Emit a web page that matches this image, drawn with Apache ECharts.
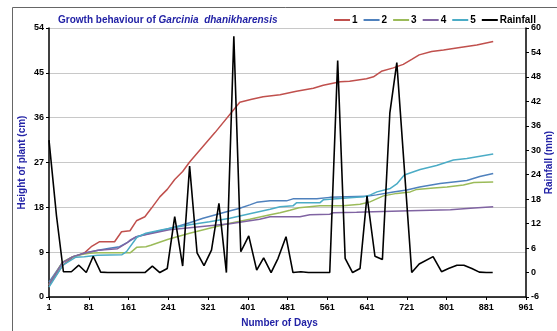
<!DOCTYPE html>
<html>
<head>
<meta charset="utf-8">
<script src="https://cdn.jsdelivr.net/npm/echarts@6/dist/echarts.min.js"></script>
<style>html,body{margin:0;padding:0;background:#fff}#c{width:557px;height:331px}</style>
</head>
<body>
<div id="c"></div>
<script>
// ---- Data ----
const xTicks = [1, 81, 161, 241, 321, 401, 481, 561, 641, 721, 801, 881, 961];

const s1Days = [1, 29, 49, 73, 86, 103, 133, 147, 164, 177, 194, 207, 224, 239, 254, 270, 284, 335, 385, 409, 432, 466, 499, 533, 553, 587, 606, 640, 654, 670, 694, 714, 731, 746, 771, 795, 828, 862, 895];
const s1Vals = [2.3, 6.4, 8.0, 8.9, 10.1, 11.1, 11.1, 13.1, 13.3, 15.3, 16.1, 17.8, 20.1, 21.6, 23.6, 25.2, 27.1, 33.0, 39.1, 39.7, 40.2, 40.6, 41.3, 41.9, 42.5, 43.2, 43.3, 43.8, 44.2, 45.3, 46.0, 46.7, 47.7, 48.6, 49.3, 49.6, 50.1, 50.6, 51.3];

const s2Days = [1, 28, 49, 76, 100, 123, 143, 160, 177, 204, 237, 264, 284, 311, 351, 385, 405, 419, 446, 479, 492, 540, 566, 600, 640, 660, 694, 721, 747, 788, 842, 868, 895];
const s2Vals = [3.0, 6.9, 8.1, 8.9, 9.4, 9.8, 10.1, 11.0, 12.1, 12.8, 13.6, 14.3, 14.9, 15.8, 16.9, 17.8, 18.5, 19.0, 19.3, 19.3, 19.7, 19.7, 20.0, 20.1, 20.2, 20.5, 21.1, 21.5, 22.1, 22.8, 23.4, 24.2, 24.8];

const s3Days = [1, 28, 49, 69, 83, 100, 165, 178, 196, 206, 241, 284, 324, 365, 405, 446, 466, 486, 504, 546, 593, 627, 647, 674, 701, 728, 741, 775, 802, 835, 856, 895];
const s3Vals = [2.5, 7.0, 8.1, 8.6, 8.8, 8.9, 8.9, 10.0, 10.1, 10.4, 11.6, 12.8, 13.8, 14.8, 15.6, 16.5, 16.9, 17.4, 17.9, 18.3, 18.3, 18.6, 19.1, 20.3, 20.8, 21.1, 21.6, 21.9, 22.1, 22.5, 23.0, 23.1];

const s4Days = [1, 28, 49, 76, 100, 139, 157, 164, 177, 190, 243, 284, 324, 365, 405, 425, 446, 486, 506, 526, 566, 573, 620, 654, 728, 809, 849, 895];
const s4Vals = [2.5, 6.9, 8.1, 8.9, 9.4, 9.7, 10.8, 11.4, 12.1, 12.4, 13.5, 13.9, 14.3, 14.7, 15.3, 15.6, 16.1, 16.1, 16.1, 16.5, 16.6, 16.9, 17.0, 17.1, 17.3, 17.5, 17.8, 18.1];

const s5Days = [1, 29, 55, 72, 99, 148, 157, 178, 196, 229, 284, 324, 365, 405, 446, 466, 492, 499, 546, 553, 593, 634, 648, 661, 688, 701, 716, 748, 781, 815, 842, 895];
const s5Vals = [2.0, 6.4, 8.0, 8.1, 8.4, 8.5, 9.1, 12.0, 12.8, 13.5, 14.5, 15.1, 15.8, 16.7, 17.6, 18.1, 18.3, 18.9, 18.9, 19.5, 19.8, 20.1, 20.5, 21.1, 21.8, 22.7, 24.5, 25.6, 26.4, 27.5, 27.8, 28.7];

const rainDays = [1, 16, 30, 46, 61, 76, 90, 105, 119, 134, 149, 165, 180, 194, 209, 224, 239, 254, 270, 284, 299, 313, 328, 343, 358, 373, 387, 403, 419, 433, 448, 462, 478, 492, 508, 523, 538, 552, 566, 582, 597, 612, 627, 641, 657, 672, 687, 701, 731, 746, 774, 791, 805, 822, 836, 852, 867, 881, 894];
const rainVals = [32.5, 14, 0.2, 0.2, 1.8, 0, 4, 0.1, 0, 0, 0, 0, 0, 0, 1.6, 0, 1, 13.7, 1.6, 26.1, 4.8, 1.7, 5.5, 17, 0, 58, 5.1, 9.0, 0.6, 3.6, 0, 3.5, 8.8, 0, 0.2, 0, 0, 0, 0, 52, 3.5, 0, 1, 18.8, 4, 3.2, 39.2, 51.5, 0, 2.1, 3.9, 0.2, 1.0, 1.8, 1.8, 1.0, 0.1, 0, 0];

const seriesNames = ['1', '2', '3', '4', '5', 'Rainfall'];
const seriesColors = ['#C0504D', '#4F81BD', '#9BBB59', '#8064A2', '#4BACC6', '#000000'];

// ---- Build ----
const FONT = '"Liberation Sans", Arial, sans-serif';
const BLUE = '#2323a6';
const pairs = (d, v) => d.map((x, i) => [x - 1, v[i]]); // axis offset so ticks read 1, 81, 161 ...
const dayList = [s1Days, s2Days, s3Days, s4Days, s5Days, rainDays];
const valList = [s1Vals, s2Vals, s3Vals, s4Vals, s5Vals, rainVals];

const chart = echarts.init(document.getElementById('c'), null, {renderer: 'canvas'});
const series = seriesNames.map((n, i) => ({
  name: n,
  type: 'line',
  yAxisIndex: i === 5 ? 1 : 0,
  data: pairs(dayList[i], valList[i]),
  showSymbol: false,
  symbol: 'none',
  lineStyle: {color: seriesColors[i], width: i === 5 ? 1.6 : 1.5},
  itemStyle: {color: seriesColors[i]},
  z: i === 5 ? 5 : 3,
  animation: false
}));

chart.setOption({
  animation: false,
  textStyle: {fontFamily: FONT},
  graphic: [{
    type: 'rect', shape: {x: 12.5, y: 7.5, width: 600, height: 400},
    style: {fill: 'none', stroke: '#666', lineWidth: 1}, silent: true, z: -10
  }],
  title: {
    left: 53, top: 10,
    text: '{a|Growth behaviour of }{b|Garcinia  dhanikharensis}',
    textStyle: {
      rich: {
        a: {fontFamily: FONT, fontWeight: 'bold', fontSize: 10, color: BLUE},
        b: {fontFamily: FONT, fontWeight: 'bold', fontStyle: 'italic', fontSize: 10, color: BLUE}
      }
    }
  },
  legend: {
    left: 329, top: 10,
    itemWidth: 16, itemHeight: 2, itemGap: 6,
    icon: 'rect',
    data: seriesNames,
    textStyle: {fontFamily: FONT, fontWeight: 'bold', fontSize: 10, color: '#000', padding: [0, 0, 0, -3]}
  },
  grid: {left: 49, right: 31, top: 28, bottom: 34, containLabel: false, outerBoundsMode: 'none'},
  xAxis: {
    type: 'value', min: 0, max: 960, interval: 80,
    name: 'Number of Days', nameLocation: 'middle', nameGap: 21, nameMoveOverlap: false,
    nameTextStyle: {fontFamily: FONT, fontWeight: 'bold', fontSize: 10, color: BLUE, padding: [0, 16, 0, 0]},
    axisLine: {show: true, lineStyle: {color: '#000', width: 1.5}},
    axisTick: {show: true, length: 3, lineStyle: {color: '#000'}},
    axisLabel: {margin: 6, fontFamily: FONT, fontWeight: 'bold', fontSize: 9, color: '#000', formatter: v => String(v + 1)},
    splitLine: {show: false}
  },
  yAxis: [{
    type: 'value', min: 0, max: 54, interval: 9,
    name: 'Height of plant (cm)', nameLocation: 'middle', nameGap: 22, nameRotate: 90, nameMoveOverlap: false,
    nameTextStyle: {fontFamily: FONT, fontWeight: 'bold', fontSize: 10, color: BLUE},
    axisLine: {show: true, lineStyle: {color: '#000', width: 1.5}},
    axisTick: {show: true, length: 3, lineStyle: {color: '#000'}},
    axisLabel: {margin: 5, fontFamily: FONT, fontWeight: 'bold', fontSize: 9, color: '#000'},
    splitLine: {show: true, lineStyle: {color: '#c8c8c8', width: 1}}
  }, {
    type: 'value', min: -6, max: 60, interval: 6, position: 'right',
    name: 'Rainfall (mm)', nameLocation: 'middle', nameGap: 18, nameRotate: 90, nameMoveOverlap: false,
    nameTextStyle: {fontFamily: FONT, fontWeight: 'bold', fontSize: 10, color: BLUE},
    axisLine: {show: true, lineStyle: {color: '#000', width: 1.5}},
    axisTick: {show: true, length: 3, lineStyle: {color: '#000'}},
    axisLabel: {margin: 5, fontFamily: FONT, fontWeight: 'bold', fontSize: 9, color: '#000'},
    splitLine: {show: false}
  }],
  series: series
});
</script>
</body>
</html>
